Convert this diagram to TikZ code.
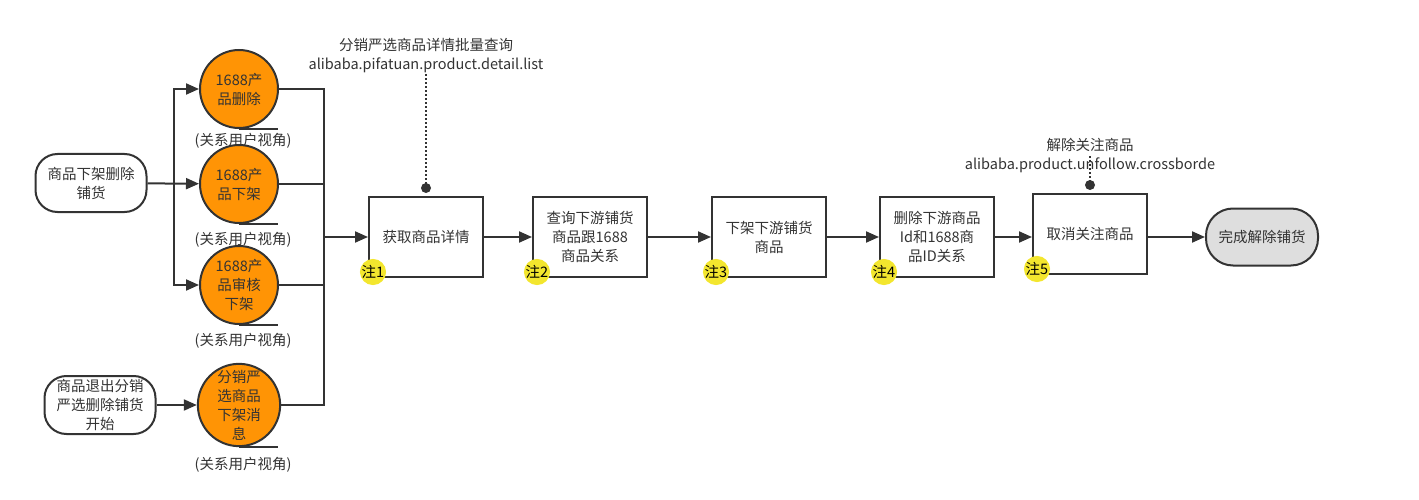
\documentclass[tikz,border=0pt]{standalone}
\usepackage{fontspec}
\setmainfont{Noto Sans CJK SC}
\usetikzlibrary{arrows.meta,positioning}
\definecolor{ink}{HTML}{333333}
\definecolor{msgorange}{HTML}{FF9405}
\definecolor{noteyellow}{HTML}{F3E62E}
\definecolor{donegray}{HTML}{DEDEDE}
\tikzset{
    > = {Triangle[length=13pt,width=11pt]},
    every node/.style = {text=ink, font=\fontsize{14.5}{19}\selectfont},
    wire/.style = {line width=2pt, draw=ink},
    flow/.style = {wire, ->},
    startnode/.style = {draw=ink, line width=2pt, rounded corners=22pt,
        minimum width=111pt, minimum height=58pt, align=center, inner sep=2pt},
    msgnode/.style = {circle, draw=ink, line width=2pt, fill=msgorange,
        minimum size=78pt, inner sep=0pt, align=center},
    stepnode/.style = {draw=ink, line width=2pt, minimum width=114pt,
        minimum height=80pt, align=center, inner sep=2pt},
    donenode/.style = {draw=ink, line width=2pt, fill=donegray,
        rounded corners=27pt, minimum width=112pt, minimum height=57pt},
    notenode/.style = {circle, fill=noteyellow, minimum size=24pt, inner sep=0pt,
        text=black},
    apinode/.style = {align=center, inner sep=1pt}
}
\begin{document}
\begin{tikzpicture}[x=1pt,y=-1pt]
    \useasboundingbox (0,0) rectangle (1419,500);

    \node[startnode] (s1) at (91,183) {商品下架删除\\铺货};
    \node[startnode] (s2) at (100,405) {商品退出分销\\严选删除铺货\\开始};

    \node[msgnode] (m1) at (239,89) {1688产\\品删除};
    \node[msgnode] (m2) at (239,184) {1688产\\品下架};
    \node[msgnode] (m3) at (239,285) {1688产\\品审核\\下架};
    \node[msgnode] (m4) at (239,405) {分销严\\选商品\\下架消\\息};

    \foreach \m in {m1,m2,m3,m4}
        \draw[wire] (\m.south) -- ++(39,0);

    \node[below=1pt of m1.south, xshift=4pt] (v1) {(关系用户视角)};
    \node[below=5pt of m2.south, xshift=4pt] (v2) {(关系用户视角)};
    \node[below=5pt of m3.south, xshift=4pt] (v3) {(关系用户视角)};
    \node[below=7pt of m4.south, xshift=4pt] (v4) {(关系用户视角)};

    \node[stepnode] (b1) at (426,237) {获取商品详情};
    \node[stepnode] (b2) at (590,237) {查询下游铺货\\商品跟1688\\商品关系};
    \node[stepnode] (b3) at (769,237) {下架下游铺货\\商品};
    \node[stepnode] (b4) at (937,237) {删除下游商品\\Id和1688商\\品ID关系};
    \node[stepnode] (b5) at (1090,234) {取消关注商品};
    \node[donenode] (done) at (1262,237) {完成解除铺货};

    \node[notenode] at ([shift={(5,-6)}]b1.south west) (n1) {注1};
    \node[notenode] at ([shift={(5,-6)}]b2.south west) (n2) {注2};
    \node[notenode] at ([shift={(5,-6)}]b3.south west) (n3) {注3};
    \node[notenode] at ([shift={(5,-6)}]b4.south west) (n4) {注4};
    \node[notenode] at ([shift={(5,-6)}]b5.south west) (n5) {注5};

    \node[apinode] (api1) at (426,56) {分销严选商品详情批量查询\\alibaba.pifatuan.product.detail.list};
    \node[apinode] (api2) at (1090,156) {解除关注商品\\alibaba.product.unfollow.crossborde};

    % branches
    \coordinate (split) at (174,184);
    \coordinate (merge) at (324,237);
    \draw[flow] (s1) -- (m2);
    \draw[flow] (split) |- (m1);
    \draw[flow] (split) |- (m3);
    \draw[flow] (s2) -- (m4);
    \foreach \m in {m1,m2,m3,m4}
        \draw[wire] (\m) -| (merge);
    \draw[flow] (merge) -- (b1);

    % main flow
    \draw[flow] (b1) -- (b2);
    \draw[flow] (b2) -- (b3);
    \draw[flow] (b3) -- (b4);
    \draw[flow] (b4.east) -- (b4.east -| b5.west);
    \draw[flow] (b5.east |- done.west) -- (done);

    % api notes
    \coordinate (d1) at ([yshift=8pt]b1.north);
    \coordinate (d2) at ([yshift=8pt]b5.north);
    \draw[ink, line width=2pt, dotted] (api1.south) -- (d1);
    \draw[ink, line width=2pt, dotted] (api2.center) -- (d2);
    \fill[ink] (d1) circle (5pt);
    \fill[ink] (d2) circle (5pt);
\end{tikzpicture}
\end{document}
